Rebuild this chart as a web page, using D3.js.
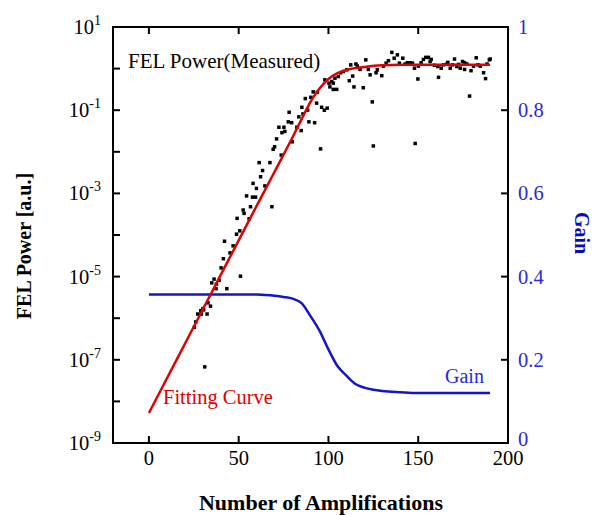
<!DOCTYPE html>
<html lang="en">
<head>
<meta charset="UTF-8">
<title>FEL power and gain</title>
<style>
  body { margin: 0; background: #fff; }
  text { font-family: "Liberation Serif", "Times New Roman", serif; }
</style>
</head>
<body>
<script src="https://cdn.jsdelivr.net/npm/d3@7"></script>
<script>
// measured FEL power: amplification number and log10(power)
var measX = [54.4,57.7,59.4,56.6,68.5,52.5,53.0,49.1,55.8,50.6,48.8,42.1,46.9,45.2,41.5,40.2,51.0,36.3,39.1,35.0,
  37.6,37.4,43.4,32.9,34.3,30.1,28.9,30.5,27.2,29.2,32.4,26.1,25.3,31.1,
  64.6,59.9,58.0,62.2,63.3,61.4,67.4,73.7,69.2,70.0,71.1,79.8,74.1,75.7,72.4,75.2,82.4,84.8,77.6,79.5,
  78.1,83.5,85.8,95.6,89.1,92.3,85.2,88.4,87.1,90.2,93.4,91.5,93.8,96.2,97.7,99.3,100.3,
  125.0,124.4,98.0,101.8,102.7,100.8,102.7,104.6,103.6,105.5,106.8,108.3,110.2,111.6,114.2,113.5,112.4,
  115.3,116.1,117.6,119.4,120.8,122.2,123.2,126.5,127.2,129.7,130.6,132.1,133.4,135.3,136.6,138.4,139.5,
  141.4,142.7,144.0,145.6,146.8,147.9,149.8,148.3,150.1,151.6,152.9,154.2,155.7,157.2,156.6,159.0,160.9,
  161.3,162.8,164.1,166.0,166.5,167.8,169.1,170.2,171.5,172.4,173.4,174.7,175.8,177.1,175.8,178.6,179.4,
  180.8,182.3,183.3,184.6,186.4,187.5,188.3,189.6,190.1];
var measLog = [-3.06,-3.09,-3.09,-3.32,-3.32,-3.40,-3.48,-3.60,-3.61,-3.90,-3.98,-4.15,-4.26,-4.43,-4.57,-4.79,-4.99,-5.06,-5.09,-5.15,
  -5.18,-5.29,-5.29,-5.63,-5.71,-5.77,-5.82,-5.80,-5.90,-5.90,-5.90,-6.09,-6.22,-7.17,
  -2.82,-2.88,-2.76,-2.60,-2.45,-2.26,-2.26,-2.08,-1.94,-1.88,-1.69,-1.76,-1.54,-1.51,-1.41,-1.41,-1.41,-1.49,-1.28,-1.30,
  -1.05,-1.16,-1.09,-1.93,-1.28,-1.30,-0.93,-1.00,-0.72,-0.69,-0.83,-0.56,-0.57,-0.93,-1.00,-0.95,-0.35,
  -1.86,-0.80,-0.27,-0.31,-0.35,-0.44,-0.50,-0.50,-0.23,-0.19,-0.10,-0.07,-0.03,-0.29,-0.44,-0.18,0.09,
  0.11,0.06,-0.02,-0.46,0.21,-0.02,-0.15,-0.10,-0.03,-0.17,0.06,0.13,0.19,0.39,0.25,0.33,0.13,
  0.25,0.11,0.14,0.14,0.13,0.01,-0.25,-1.80,0.06,0.14,0.22,0.27,0.27,0.22,0.17,0.08,0.05,
  -0.21,0.01,0.09,0.11,0.15,0.01,0.09,0.23,0.05,0.10,0.01,0.17,0.14,0.11,-0.02,-0.66,-0.05,
  0.06,0.26,0.09,0.06,-0.10,-0.24,0.11,0.21,0.23];

// fitting curve, log10(power)
var fitX = [0,10,20,30,40,50,60,70,80,85,90,95,100,105,110,120,130,140,150,160,170,180,190];
var fitLog = [-8.28,-7.45,-6.62,-5.79,-4.96,-4.13,-3.3,-2.48,-1.65,-1.22,-0.8,-0.48,-0.25,-0.11,-0.03,0.04,0.08,0.09,0.09,0.09,0.09,0.09,0.09];

// gain curve (right axis)
var gainX = [0,10,20,30,40,50,60,65,70,75,80,85,90,95,100,105,110,115,120,125,130,140,150,160,170,180,190];
var gainVal = [0.357,0.357,0.357,0.357,0.357,0.357,0.357,0.356,0.354,0.351,0.347,0.336,0.305,0.27,0.225,0.185,0.162,0.142,0.133,0.128,0.125,0.122,0.12,0.12,0.12,0.12,0.12];

var xTicks = [0,50,100,150,200];
var yTickExp = [-9,-8,-7,-6,-5,-4,-3,-2,-1,0,1];
var yLabelExp = [-9,-7,-5,-3,-1,1];
var gainTicks = [0,0.2,0.4,0.6,0.8,1];
var gainLabels = ["0","0.2","0.4","0.6","0.8","1"];

var width = 592, height = 515;
var mLeft = 113, mRight = 508, mTop = 27, mBottom = 443;
var blue = "#1414c8", blueText = "#2a2ad8";

var svg = d3.select("body").append("svg")
  .attr("width", width).attr("height", height);

var x = d3.scaleLinear().domain([-20,200]).range([mLeft,mRight]);
var y = d3.scaleLog().domain([1e-9,1e1]).range([mBottom,mTop]);
var g = d3.scaleLinear().domain([0,1]).range([mBottom,mTop]);

// frame
svg.append("rect")
  .attr("x",mLeft).attr("y",mTop).attr("width",mRight-mLeft).attr("height",mBottom-mTop)
  .attr("fill","none").attr("stroke","#000").attr("stroke-width",2);

// ticks, all pointing inward
var tl = 7;
svg.selectAll(".xtb").data(xTicks.slice(0,4)).enter().append("line")
  .attr("x1",d=>x(d)).attr("x2",d=>x(d)).attr("y1",mBottom).attr("y2",mBottom-tl)
  .attr("stroke","#000").attr("stroke-width",2);
svg.selectAll(".xtt").data(xTicks.slice(0,4)).enter().append("line")
  .attr("x1",d=>x(d)).attr("x2",d=>x(d)).attr("y1",mTop).attr("y2",mTop+tl)
  .attr("stroke","#000").attr("stroke-width",2);
svg.selectAll(".ytl").data(yTickExp).enter().append("line")
  .attr("x1",mLeft).attr("x2",mLeft+tl).attr("y1",d=>y(Math.pow(10,d))).attr("y2",d=>y(Math.pow(10,d)))
  .attr("stroke","#000").attr("stroke-width",2);
svg.selectAll(".ytr").data(gainTicks).enter().append("line")
  .attr("x1",mRight).attr("x2",mRight-tl).attr("y1",d=>g(d)).attr("y2",d=>g(d))
  .attr("stroke","#000").attr("stroke-width",2);

// x tick labels
svg.selectAll(".xl").data(xTicks).enter().append("text")
  .attr("x",d=>x(d)).attr("y",465)
  .attr("text-anchor","middle").attr("font-size",20.5)
  .text(d=>d);

// left log labels with superscripts
var yl = svg.selectAll(".yl").data(yLabelExp).enter().append("text")
  .attr("x",101).attr("y",d=>y(Math.pow(10,d))+7)
  .attr("text-anchor","end").attr("font-size",20.5);
yl.append("tspan").text("10");
yl.append("tspan").attr("dy",-9).attr("font-size",14).text(d=>d < 0 ? "-" + (-d) : d);

// right gain labels (the bottom one sits a bit higher, clear of "200")
svg.selectAll(".gl").data(gainTicks).enter().append("text")
  .attr("x",518).attr("y",d=>Math.min(g(d)+7, mBottom+3))
  .attr("font-size",20.5).attr("fill",blueText)
  .text((d,i)=>gainLabels[i]);

// axis titles
svg.append("text")
  .attr("transform","translate(31,246) rotate(-90)")
  .attr("text-anchor","middle").attr("font-size",20).attr("font-weight","bold")
  .text("FEL Power [a.u.]");
svg.append("text")
  .attr("x",321).attr("y",510)
  .attr("text-anchor","middle").attr("font-size",22).attr("font-weight","bold")
  .text("Number of Amplifications");
svg.append("text")
  .attr("transform","translate(575,233) rotate(90)")
  .attr("text-anchor","middle").attr("font-size",20).attr("font-weight","bold")
  .attr("fill","#0a0ab4")
  .text("Gain");

// gain curve
var gainLine = d3.line().x(d=>x(d[0])).y(d=>g(d[1])).curve(d3.curveMonotoneX);
svg.append("path")
  .attr("d",gainLine(gainX.map((v,i)=>[v,gainVal[i]])))
  .attr("fill","none").attr("stroke",blue).attr("stroke-width",2.5);

// measured points
svg.selectAll(".pt").data(measX.map((v,i)=>[v,Math.pow(10,measLog[i])])).enter().append("rect")
  .attr("x",d=>x(d[0])-1.75).attr("y",d=>y(d[1])-1.75)
  .attr("width",3.5).attr("height",3.5).attr("fill","#000");

// fitting curve
var fitLine = d3.line().x(d=>x(d[0])).y(d=>y(d[1])).curve(d3.curveMonotoneX);
svg.append("path")
  .attr("d",fitLine(fitX.map((v,i)=>[v,Math.pow(10,fitLog[i])])))
  .attr("fill","none").attr("stroke","#e00000").attr("stroke-width",2.5);

// annotations
svg.append("text").attr("x",128).attr("y",68).attr("font-size",21).text("FEL Power(Measured)");
svg.append("text").attr("x",163).attr("y",404).attr("font-size",20.5).attr("fill","#e00000").text("Fitting Curve");
svg.append("text").attr("x",445).attr("y",383).attr("font-size",20).attr("fill",blueText).text("Gain");
</script>
</body>
</html>
